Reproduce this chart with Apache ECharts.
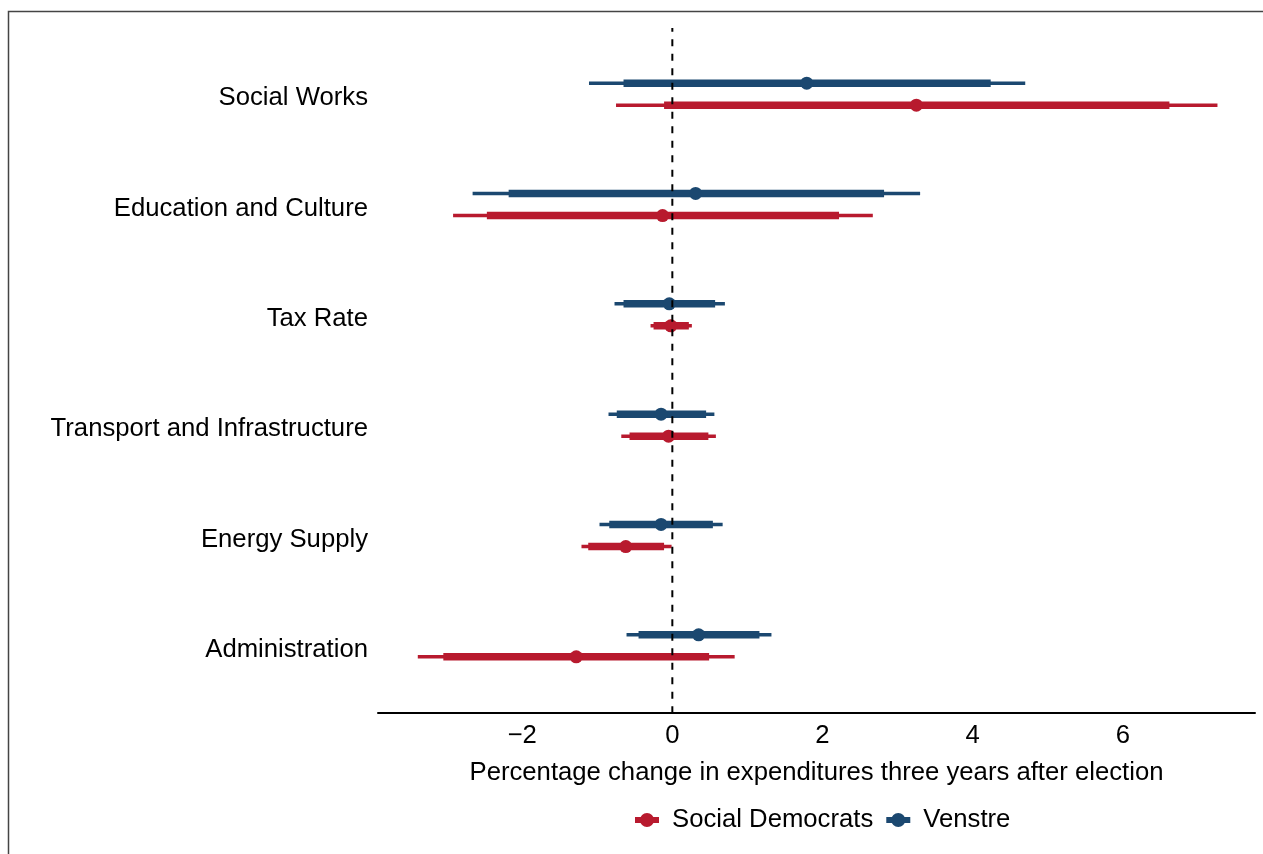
<!DOCTYPE html>
<html>
<head>
<meta charset="utf-8">
<script src="https://cdn.jsdelivr.net/npm/echarts@6/dist/echarts.min.js"></script>
<style>
  html, body { margin: 0; padding: 0; background: #fff; }
  #chart { width: 1263px; height: 854px; }
</style>
</head>
<body>
<div id="chart"></div>
<script>
// Spending categories, top to bottom
const categories = ['Social Works', 'Education and Culture', 'Tax Rate',
  'Transport and Infrastructure', 'Energy Supply', 'Administration'];

// Social Democrats: point estimate, 95% and 90% confidence bounds
const sdEst  = [3.25, -0.13, -0.02, -0.05, -0.62, -1.28];
const sdLo95 = [-0.75, -2.92, -0.29, -0.68, -1.21, -3.39];
const sdHi95 = [7.26, 2.67, 0.26, 0.58, -0.01, 0.83];
const sdLo90 = [-0.11, -2.47, -0.25, -0.57, -1.12, -3.05];
const sdHi90 = [6.62, 2.22, 0.22, 0.48, -0.11, 0.49];

// Venstre: point estimate, 95% and 90% confidence bounds
const vEst  = [1.79, 0.31, -0.04, -0.15, -0.15, 0.35];
const vLo95 = [-1.11, -2.66, -0.77, -0.85, -0.97, -0.61];
const vHi95 = [4.70, 3.30, 0.70, 0.56, 0.67, 1.32];
const vLo90 = [-0.65, -2.18, -0.65, -0.74, -0.84, -0.45];
const vHi90 = [4.24, 2.82, 0.57, 0.45, 0.54, 1.16];

// x-axis tick labels
const xTicks = [-2, 0, 2, 4, 6];
const referenceValue = 0;

const RED = '#b81a2e';
const BLUE = '#1b4870';
const FONT = '"Liberation Sans", Arial, Helvetica, sans-serif';
const FS = 25.7;
const legendIcon = 'path://M0,4H24V10H0Z M12,0A7,7 0 1,1 11.99,0Z';

function ciSeries(name, color, est, lo95, hi95, lo90, hi90, shift) {
  const data = categories.map((c, i) => [i, est[i], lo95[i], hi95[i], lo90[i], hi90[i]]);
  return {
    type: 'custom',
    name: name,
    data: data,
    itemStyle: { color: color },
    encode: { y: 0, x: [1, 2, 3, 4, 5] },
    z: 2,
    renderItem: function (params, api) {
      const i = api.value(0);
      const band = api.size([0, 1])[1];
      const y = api.coord([0, i])[1] + shift * band;
      const px = v => api.coord([v, i])[0];
      return {
        type: 'group',
        children: [
          { type: 'line', shape: { x1: px(api.value(2)), y1: y, x2: px(api.value(3)), y2: y },
            style: { stroke: color, lineWidth: 3.5, lineCap: 'butt' } },
          { type: 'line', shape: { x1: px(api.value(4)), y1: y, x2: px(api.value(5)), y2: y },
            style: { stroke: color, lineWidth: 7.5, lineCap: 'butt' } },
          { type: 'circle', shape: { cx: px(api.value(1)), cy: y, r: 6.5 },
            style: { fill: color } }
        ]
      };
    }
  };
}

const chart = echarts.init(document.getElementById('chart'), null, { renderer: 'canvas' });

chart.setOption({
  animation: false,
  backgroundColor: '#fff',
  textStyle: { fontFamily: FONT },
  grid: { left: 378, right: 8, top: 39, height: 662 },
  xAxis: {
    type: 'value',
    min: -3.92,
    max: 7.76,
    offset: 12,
    splitLine: { show: false },
    axisTick: { show: false },
    axisLine: { show: true, lineStyle: { color: '#000', width: 2 } },
    axisLabel: {
      customValues: xTicks,
      color: '#000',
      fontSize: FS,
      fontFamily: FONT,
      margin: 10,
      formatter: v => String(v).replace('-', '\u2212')
    },
    name: 'Percentage change in expenditures three years after election',
    nameLocation: 'middle',
    nameGap: 47,
    nameTextStyle: { color: '#000', fontSize: FS, fontFamily: FONT }
  },
  yAxis: {
    type: 'category',
    inverse: true,
    data: categories,
    axisLine: { show: false },
    axisTick: { show: false },
    splitLine: { show: false },
    axisLabel: {
      margin: 10,
      formatter: v => '{c|' + v + '}',
      rich: { c: { color: '#000', fontSize: FS, fontFamily: FONT, padding: [8, 0, 0, 0] } }
    }
  },
  legend: {
    left: 635,
    top: 807,
    padding: 0,
    itemWidth: 24,
    itemHeight: 14,
    itemGap: 13,
    textStyle: { color: '#000', fontSize: FS, fontFamily: FONT, padding: [0, 0, 0, 8] },
    data: [
      { name: 'Social Democrats', icon: legendIcon },
      { name: 'Venstre', icon: legendIcon }
    ]
  },
  graphic: [{
    type: 'rect',
    shape: { x: 8.5, y: 11.5, width: 1400, height: 1000 },
    style: { fill: null, stroke: '#444', lineWidth: 1.5 },
    silent: true
  }],
  series: [
    ciSeries('Venstre', BLUE, vEst, vLo95, vHi95, vLo90, vHi90, -0.1),
    ciSeries('Social Democrats', RED, sdEst, sdLo95, sdHi95, sdLo90, sdHi90, 0.1),
    {
      // vertical dashed reference line at zero
      type: 'custom',
      name: 'reference',
      data: [[referenceValue]],
      encode: { x: 0 },
      z: 5,
      silent: true,
      renderItem: function (params, api) {
        const cs = params.coordSys;
        const x = api.coord([api.value(0), 0])[0];
        return {
          type: 'line',
          shape: { x1: x, y1: cs.y - 11, x2: x, y2: cs.y + cs.height + 12 },
          style: { stroke: '#000', lineWidth: 2, lineDash: [7, 7.5], lineDashOffset: 3.3 }
        };
      }
    }
  ]
});
</script>
</body>
</html>
